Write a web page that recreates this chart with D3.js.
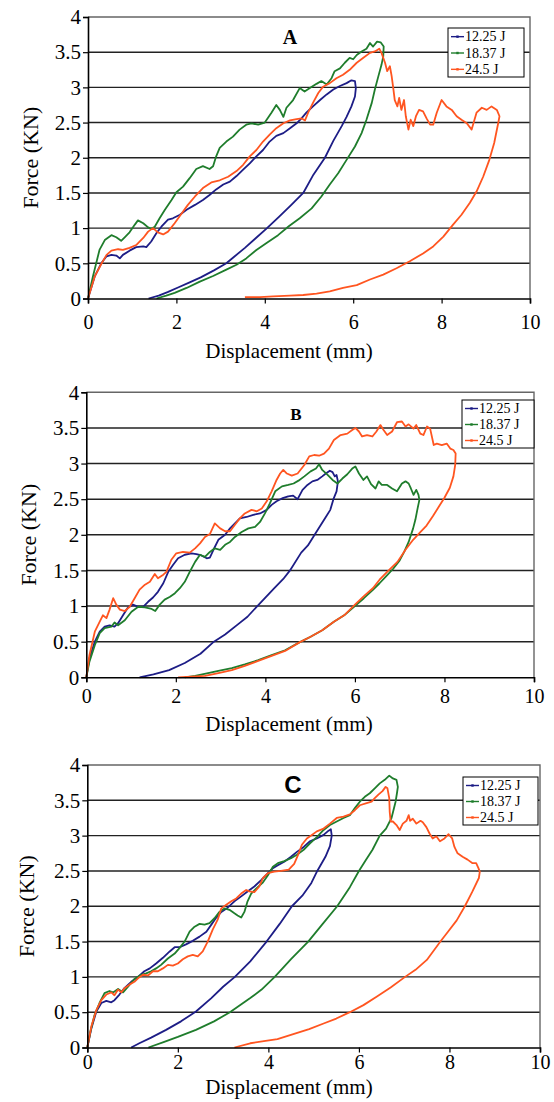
<!DOCTYPE html>
<html>
<head>
<meta charset="utf-8">
<script src="https://cdnjs.cloudflare.com/ajax/libs/d3/7.8.5/d3.min.js"></script>
<style>
	body { margin: 0; background: #fff; }
	svg { display: block; }
</style>
</head>
<body>
<svg id="main-svg"></svg>
<script>
'use strict'

// ---- data (x = displacement mm, y = force kN) ----
var xTicks = [0, 2, 4, 6, 8, 10];
var yTicks = [0, 0.5, 1, 1.5, 2, 2.5, 3, 3.5, 4];
var seriesNames = ["12.25 J", "18.37 J", "24.5 J"];
var panelLetters = ["A", "B", "C"];

// panel A
var aBlue = [[0,0],[0.15,0.31],[0.3,0.5],[0.42,0.6],[0.53,0.62],[0.64,0.61],[0.72,0.57],[0.79,0.62],[0.94,0.68],[1.09,0.73],[1.25,0.74],[1.32,0.73],[1.43,0.81],[1.55,0.93],[1.66,1.02],[1.81,1.12],[1.92,1.14],[2.08,1.19],[2.23,1.26],[2.42,1.33],[2.6,1.4],[2.75,1.47],[2.9,1.55],[3.06,1.62],[3.21,1.66],[3.36,1.74],[3.51,1.83],[3.66,1.92],[3.81,2.02],[3.96,2.11],[4.11,2.23],[4.26,2.31],[4.42,2.35],[4.57,2.42],[4.72,2.49],[4.83,2.56],[4.94,2.64],[5.09,2.73],[5.25,2.82],[5.4,2.9],[5.55,2.97],[5.7,3.02],[5.85,3.06],[5.96,3.1],[6.04,3.09],[6.06,2.99],[6.04,2.87],[5.96,2.73],[5.85,2.58],[5.74,2.45],[5.55,2.24],[5.36,2.0],[5.1,1.76],[4.87,1.5],[4.6,1.33],[4.32,1.16],[4.05,1.0],[3.8,0.86],[3.55,0.72],[3.3,0.59],[3.13,0.5],[2.85,0.4],[2.55,0.3],[2.3,0.23],[2.05,0.16],[1.8,0.09],[1.6,0.04],[1.37,0]];
var aGreen = [[0,0],[0.11,0.31],[0.26,0.69],[0.38,0.83],[0.53,0.9],[0.64,0.87],[0.75,0.82],[0.83,0.87],[0.94,0.94],[1.06,1.05],[1.13,1.11],[1.25,1.07],[1.36,1.01],[1.43,0.99],[1.51,1.02],[1.62,1.14],[1.74,1.26],[1.89,1.4],[2.0,1.51],[2.15,1.59],[2.3,1.71],[2.45,1.84],[2.6,1.88],[2.75,1.84],[2.83,1.88],[2.9,2.02],[2.98,2.14],[3.13,2.23],[3.28,2.3],[3.43,2.4],[3.58,2.47],[3.7,2.49],[3.85,2.47],[4.0,2.5],[4.15,2.64],[4.26,2.75],[4.34,2.68],[4.42,2.58],[4.49,2.71],[4.64,2.82],[4.79,2.99],[4.9,2.94],[5.02,2.99],[5.17,3.05],[5.28,3.09],[5.4,3.04],[5.51,3.13],[5.58,3.23],[5.7,3.27],[5.81,3.35],[5.92,3.42],[6.0,3.4],[6.08,3.46],[6.19,3.51],[6.3,3.55],[6.38,3.63],[6.45,3.58],[6.54,3.65],[6.62,3.64],[6.69,3.58],[6.68,3.44],[6.64,3.32],[6.57,3.16],[6.49,2.97],[6.42,2.78],[6.3,2.54],[6.19,2.35],[6.04,2.16],[5.85,1.97],[5.66,1.78],[5.47,1.62],[5.28,1.45],[5.06,1.28],[4.79,1.14],[4.55,1.03],[4.3,0.9],[4.04,0.79],[3.81,0.69],[3.58,0.57],[3.36,0.48],[3.13,0.41],[2.83,0.32],[2.53,0.24],[2.23,0.15],[1.96,0.08],[1.77,0.04],[1.55,0]];
var aOrange = [[0,0],[0.15,0.31],[0.3,0.49],[0.42,0.62],[0.53,0.68],[0.68,0.7],[0.79,0.69],[0.94,0.72],[1.09,0.76],[1.25,0.86],[1.36,0.95],[1.47,1.0],[1.58,0.94],[1.7,0.91],[1.81,0.95],[1.96,1.07],[2.11,1.2],[2.26,1.33],[2.42,1.45],[2.6,1.57],[2.79,1.65],[2.98,1.68],[3.17,1.73],[3.36,1.81],[3.51,1.9],[3.66,2.02],[3.81,2.11],[3.96,2.23],[4.11,2.33],[4.26,2.42],[4.42,2.49],[4.57,2.53],[4.72,2.55],[4.83,2.56],[4.91,2.53],[4.98,2.64],[5.09,2.78],[5.21,2.92],[5.32,3.01],[5.47,3.06],[5.62,3.13],[5.77,3.18],[5.92,3.25],[6.08,3.35],[6.23,3.42],[6.38,3.49],[6.49,3.51],[6.59,3.55],[6.64,3.49],[6.72,3.35],[6.77,3.23],[6.83,3.3],[6.87,3.16],[6.91,2.97],[6.94,2.82],[7.0,2.73],[7.04,2.85],[7.09,2.68],[7.15,2.82],[7.19,2.59],[7.25,2.4],[7.3,2.54],[7.36,2.45],[7.42,2.59],[7.49,2.68],[7.58,2.66],[7.66,2.56],[7.74,2.47],[7.81,2.47],[7.89,2.64],[8.0,2.82],[8.11,2.73],[8.23,2.68],[8.34,2.59],[8.45,2.54],[8.57,2.49],[8.68,2.4],[8.79,2.64],[8.91,2.71],[9.02,2.68],[9.13,2.73],[9.25,2.68],[9.31,2.59],[9.28,2.49],[9.19,2.21],[9.08,1.97],[8.94,1.73],[8.79,1.52],[8.64,1.36],[8.45,1.19],[8.26,1.05],[8.04,0.88],[7.81,0.74],[7.58,0.64],[7.28,0.53],[6.98,0.43],[6.68,0.34],[6.38,0.27],[6.08,0.19],[5.77,0.15],[5.47,0.1],[5.17,0.07],[4.87,0.05],[4.57,0.04],[4.19,0.03],[3.89,0.02],[3.55,0.02]];

// panel B
var bBlue = [[0,0],[0.07,0.27],[0.19,0.5],[0.3,0.64],[0.41,0.71],[0.52,0.73],[0.63,0.71],[0.71,0.76],[0.82,0.87],[0.93,0.98],[1.04,1.02],[1.16,0.99],[1.27,0.99],[1.38,1.06],[1.49,1.12],[1.6,1.2],[1.72,1.32],[1.83,1.48],[1.94,1.58],[2.05,1.67],[2.2,1.72],[2.35,1.74],[2.46,1.73],[2.57,1.71],[2.69,1.67],[2.76,1.68],[2.84,1.79],[2.95,1.93],[3.1,2.0],[3.21,2.09],[3.32,2.16],[3.43,2.23],[3.58,2.25],[3.73,2.28],[3.88,2.3],[4.03,2.35],[4.14,2.42],[4.25,2.47],[4.37,2.51],[4.51,2.54],[4.62,2.55],[4.72,2.5],[4.83,2.63],[4.94,2.7],[5.05,2.75],[5.16,2.77],[5.27,2.82],[5.35,2.86],[5.44,2.9],[5.5,2.88],[5.55,2.82],[5.59,2.84],[5.62,2.75],[5.59,2.61],[5.52,2.5],[5.45,2.35],[5.35,2.25],[5.1,2.0],[4.95,1.85],[4.8,1.75],[4.55,1.5],[4.4,1.38],[4.2,1.25],[3.82,1.0],[3.6,0.85],[3.4,0.75],[3.1,0.6],[2.85,0.5],[2.55,0.33],[2.2,0.2],[1.85,0.1],[1.5,0.04],[1.19,0]];
var bGreen = [[0,0],[0.07,0.22],[0.19,0.45],[0.3,0.62],[0.41,0.69],[0.56,0.71],[0.63,0.77],[0.71,0.73],[0.86,0.8],[1.01,0.92],[1.16,0.99],[1.31,0.98],[1.46,0.96],[1.54,0.93],[1.64,1.02],[1.75,1.09],[1.87,1.13],[1.98,1.18],[2.09,1.25],[2.2,1.34],[2.31,1.48],[2.43,1.62],[2.54,1.72],[2.65,1.69],[2.76,1.76],[2.87,1.81],[2.99,1.79],[3.1,1.86],[3.21,1.9],[3.32,1.97],[3.47,2.04],[3.62,2.09],[3.77,2.11],[3.88,2.18],[3.99,2.3],[4.1,2.44],[4.22,2.61],[4.37,2.68],[4.51,2.7],[4.63,2.72],[4.74,2.76],[4.87,2.82],[5.01,2.89],[5.13,2.93],[5.2,2.99],[5.27,2.91],[5.39,2.84],[5.5,2.77],[5.61,2.72],[5.72,2.79],[5.83,2.85],[5.94,2.93],[6.01,2.96],[6.09,2.86],[6.19,2.77],[6.27,2.82],[6.36,2.71],[6.46,2.65],[6.53,2.75],[6.6,2.7],[6.72,2.7],[6.83,2.65],[6.94,2.61],[7.05,2.72],[7.13,2.75],[7.2,2.72],[7.25,2.65],[7.31,2.56],[7.37,2.63],[7.42,2.56],[7.44,2.49],[7.4,2.37],[7.35,2.21],[7.3,2.09],[7.2,1.9],[7.1,1.76],[7.0,1.64],[6.85,1.52],[6.7,1.42],[6.55,1.32],[6.39,1.22],[6.2,1.11],[5.98,0.99],[5.76,0.87],[5.53,0.78],[5.27,0.66],[5.01,0.57],[4.76,0.49],[4.44,0.38],[4.14,0.31],[3.84,0.24],[3.54,0.18],[3.25,0.13],[2.95,0.09],[2.72,0.06],[2.43,0.02],[2.2,0]];
var bOrange = [[0,0],[0.07,0.31],[0.19,0.64],[0.3,0.78],[0.37,0.87],[0.45,0.83],[0.52,0.95],[0.6,1.11],[0.67,1.02],[0.75,0.95],[0.86,0.93],[0.97,0.99],[1.08,1.11],[1.19,1.23],[1.31,1.3],[1.42,1.34],[1.53,1.45],[1.6,1.39],[1.72,1.44],[1.79,1.48],[1.9,1.65],[2.01,1.74],[2.16,1.76],[2.31,1.75],[2.43,1.81],[2.54,1.88],[2.65,1.97],[2.76,2.01],[2.87,2.16],[2.99,2.09],[3.1,2.05],[3.21,2.05],[3.32,2.14],[3.43,2.23],[3.54,2.3],[3.69,2.35],[3.81,2.33],[3.92,2.37],[4.03,2.47],[4.14,2.61],[4.25,2.77],[4.33,2.86],[4.4,2.91],[4.48,2.86],[4.59,2.83],[4.72,2.86],[4.87,2.98],[4.98,3.1],[5.09,3.12],[5.2,3.11],[5.31,3.14],[5.42,3.21],[5.53,3.33],[5.68,3.4],[5.83,3.42],[5.94,3.47],[6.01,3.5],[6.09,3.45],[6.16,3.38],[6.27,3.4],[6.39,3.38],[6.48,3.45],[6.57,3.54],[6.64,3.47],[6.72,3.4],[6.83,3.45],[6.94,3.58],[7.05,3.59],[7.13,3.52],[7.2,3.55],[7.31,3.49],[7.37,3.54],[7.46,3.42],[7.53,3.4],[7.61,3.52],[7.68,3.49],[7.76,3.26],[7.83,3.28],[7.94,3.26],[8.05,3.28],[8.13,3.21],[8.2,3.19],[8.25,3.14],[8.24,2.98],[8.2,2.82],[8.12,2.66],[8.0,2.52],[7.88,2.4],[7.74,2.26],[7.6,2.13],[7.45,2.03],[7.3,1.93],[7.13,1.79],[6.95,1.62],[6.72,1.48],[6.55,1.37],[6.4,1.25],[6.2,1.14],[6.0,1.02],[5.76,0.87],[5.53,0.78],[5.27,0.66],[5.01,0.57],[4.76,0.49],[4.44,0.37],[4.14,0.3],[3.84,0.23],[3.54,0.16],[3.25,0.1],[2.95,0.06],[2.65,0.02],[2.35,0.01],[2.05,0]];

// panel C
var cBlue = [[0,0],[0.09,0.27],[0.2,0.51],[0.31,0.63],[0.42,0.66],[0.53,0.64],[0.6,0.67],[0.71,0.75],[0.82,0.84],[0.97,0.93],[1.12,1.0],[1.26,1.08],[1.38,1.12],[1.52,1.19],[1.67,1.27],[1.82,1.36],[1.93,1.42],[2.04,1.42],[2.18,1.46],[2.33,1.51],[2.48,1.57],[2.63,1.64],[2.74,1.74],[2.85,1.84],[2.96,1.92],[3.1,1.98],[3.25,2.07],[3.4,2.14],[3.54,2.21],[3.69,2.28],[3.84,2.37],[3.99,2.47],[4.1,2.54],[4.21,2.58],[4.35,2.63],[4.5,2.7],[4.63,2.77],[4.78,2.84],[4.92,2.92],[5.07,2.96],[5.22,3.01],[5.33,3.07],[5.38,3.09],[5.4,3.0],[5.36,2.85],[5.26,2.7],[5.08,2.5],[4.95,2.33],[4.75,2.15],[4.52,2.0],[4.25,1.75],[3.96,1.5],[3.6,1.22],[3.26,1.0],[3.0,0.86],[2.74,0.7],[2.4,0.51],[2.07,0.37],[1.74,0.25],[1.41,0.14],[1.15,0.06],[0.97,0]];
var cGreen = [[0,0],[0.07,0.23],[0.16,0.46],[0.27,0.63],[0.38,0.77],[0.49,0.8],[0.57,0.78],[0.68,0.83],[0.79,0.78],[0.9,0.86],[1.04,0.97],[1.19,1.03],[1.3,1.05],[1.41,1.08],[1.52,1.12],[1.63,1.17],[1.78,1.26],[1.93,1.33],[2.04,1.41],[2.15,1.5],[2.26,1.64],[2.37,1.71],[2.48,1.75],[2.59,1.74],[2.7,1.76],[2.81,1.83],[2.92,1.92],[3.03,1.97],[3.14,1.95],[3.25,1.9],[3.32,1.87],[3.4,1.84],[3.47,1.92],[3.54,2.07],[3.62,2.18],[3.73,2.25],[3.87,2.33],[3.99,2.44],[4.1,2.56],[4.21,2.61],[4.35,2.64],[4.5,2.68],[4.63,2.73],[4.78,2.8],[4.92,2.89],[5.07,2.98],[5.22,3.08],[5.36,3.15],[5.51,3.2],[5.66,3.25],[5.8,3.29],[5.91,3.39],[6.02,3.48],[6.13,3.55],[6.24,3.6],[6.35,3.67],[6.46,3.74],[6.57,3.79],[6.67,3.85],[6.75,3.81],[6.83,3.79],[6.86,3.69],[6.84,3.6],[6.81,3.48],[6.72,3.25],[6.6,3.1],[6.46,3.0],[6.3,2.8],[6.15,2.65],[6.0,2.5],[5.8,2.27],[5.52,2.0],[5.2,1.75],[4.88,1.5],[4.5,1.25],[4.14,1.0],[3.85,0.82],[3.6,0.7],[3.15,0.5],[2.8,0.37],[2.4,0.25],[2.0,0.15],[1.7,0.08],[1.35,0]];
var cOrange = [[0,0],[0.09,0.3],[0.2,0.53],[0.31,0.67],[0.42,0.75],[0.53,0.78],[0.6,0.74],[0.68,0.82],[0.75,0.78],[0.82,0.84],[0.93,0.89],[1.04,0.93],[1.12,0.98],[1.23,1.03],[1.34,1.02],[1.45,1.08],[1.56,1.08],[1.67,1.12],[1.78,1.17],[1.89,1.16],[2.0,1.19],[2.11,1.25],[2.22,1.29],[2.33,1.31],[2.44,1.29],[2.55,1.36],[2.66,1.5],[2.77,1.67],[2.88,1.81],[2.96,1.97],[3.07,2.02],[3.18,2.07],[3.29,2.11],[3.4,2.18],[3.51,2.23],[3.58,2.21],[3.69,2.2],[3.8,2.28],[3.88,2.4],[3.99,2.47],[4.13,2.49],[4.28,2.5],[4.45,2.52],[4.57,2.6],[4.67,2.75],[4.74,2.87],[4.85,2.96],[4.96,3.01],[5.07,3.06],[5.22,3.1],[5.36,3.17],[5.51,3.25],[5.66,3.27],[5.8,3.3],[5.91,3.36],[6.02,3.43],[6.17,3.46],[6.28,3.48],[6.35,3.53],[6.43,3.58],[6.52,3.63],[6.59,3.69],[6.63,3.67],[6.67,3.53],[6.68,3.34],[6.7,3.2],[6.75,3.2],[6.83,3.15],[6.9,3.08],[6.97,3.17],[7.05,3.21],[7.1,3.29],[7.13,3.21],[7.19,3.24],[7.27,3.17],[7.36,3.21],[7.41,3.19],[7.49,3.12],[7.56,3.03],[7.63,2.96],[7.71,2.99],[7.79,2.92],[7.89,2.96],[7.98,3.02],[8.06,2.96],[8.11,2.84],[8.18,2.75],[8.29,2.7],[8.4,2.66],[8.51,2.61],[8.59,2.61],[8.64,2.54],[8.67,2.49],[8.65,2.4],[8.5,2.2],[8.34,2.0],[8.16,1.8],[7.98,1.65],[7.8,1.5],[7.5,1.24],[7.25,1.1],[7.02,1.0],[6.7,0.85],[6.39,0.72],[6.1,0.6],[5.8,0.5],[5.5,0.41],[5.22,0.34],[4.9,0.26],[4.55,0.19],[4.2,0.12],[3.9,0.09],[3.6,0.06],[3.25,0]];

var lineColors = ["#1d1d86", "#1f7d2c", "#ff5520"];

var Main = function() {

	var HEIGHT = 1102,
		WIDTH = 554;

	var serif = "'Liberation Serif', 'Times New Roman', serif";

	// per panel layout, measured off the page
	var panels = [
		{ letter: panelLetters[0], series: [aBlue, aGreen, aOrange],
		  left: 88, right: 530, top: 17, bottom: 298.5, tickPad: 11, titleY: 358, yTitleX: 30,
		  legend: { x: 448, y: 28, w: 76, h: 49 },
		  mark: { x: 290, y: 44, size: 20, font: serif } },
		{ letter: panelLetters[1], series: [bBlue, bGreen, bOrange],
		  left: 86.3, right: 534, top: 392.3, bottom: 677.3, tickPad: 7, titleY: 731, yTitleX: 28,
		  legend: { x: 462, y: 400, w: 72, h: 48 },
		  mark: { x: 296, y: 420, size: 17, font: serif } },
		{ letter: panelLetters[2], series: [cBlue, cGreen, cOrange],
		  left: 87.3, right: 540, top: 765, bottom: 1047.5, tickPad: 2, titleY: 1094, yTitleX: 26,
		  legend: { x: 463, y: 777, w: 75, h: 48 },
		  mark: { x: 293, y: 793, size: 24, font: "'Liberation Sans', Arial, sans-serif" } }
	];

	this.initialize = function() {
		var mainSvg = d3.select("#main-svg")
			.attr("width", WIDTH)
			.attr("height", HEIGHT)

		mainSvg.append("rect")
			.attr("width", WIDTH)
			.attr("height", HEIGHT)
			.style("fill", "#fff")

		panels.forEach(function(p) {
			drawPanel(mainSvg, p)
		})
	}

	function drawPanel(svg, p) {
		var x = d3.scaleLinear().domain([0, 10]).range([p.left, p.right]);
		var y = d3.scaleLinear().domain([0, 4]).range([p.bottom, p.top]);

		var g = svg.append("g");

		// horizontal gridlines
		g.selectAll(".grid")
			.data(yTicks.filter(function(d) { return d > 0 && d < 4; }))
			.enter().append("line")
			.attr("x1", p.left).attr("x2", p.right)
			.attr("y1", function(d) { return y(d); })
			.attr("y2", function(d) { return y(d); })
			.style("stroke", "#222")
			.style("stroke-width", 1.4)

		// frame top + right
		g.append("path")
			.attr("d", "M" + p.left + "," + y(4) + "H" + p.right + "V" + p.bottom)
			.style("fill", "none")
			.style("stroke", "#666")
			.style("stroke-width", 1.4)

		// curves
		var line = d3.line()
			.x(function(d) { return x(d[0]); })
			.y(function(d) { return y(d[1]); })

		p.series.forEach(function(s, i) {
			g.append("path")
				.datum(s)
				.attr("d", line)
				.style("fill", "none")
				.style("stroke", lineColors[i])
				.style("stroke-width", 1.8)
				.style("stroke-linejoin", "round")
		})

		// axes
		var yAxis = d3.axisLeft(y).tickValues(yTicks).tickSize(5).tickPadding(2).tickFormat(d3.format(""));
		var xAxis = d3.axisBottom(x).tickValues(xTicks).tickSize(5).tickPadding(p.tickPad);

		var ya = g.append("g").attr("transform", "translate(" + p.left + ",0)").call(yAxis);
		var xa = g.append("g").attr("transform", "translate(0," + p.bottom + ")").call(xAxis);

		[ya, xa].forEach(function(a, i) {
			a.select(".domain").style("stroke", "#000").style("stroke-width", 1.6)
			a.selectAll(".tick line").style("stroke", "#000").style("stroke-width", 1.2)
			a.selectAll("text")
				.style("font-family", serif)
				.style("font-size", i === 0 ? "21px" : "20px")
				.style("fill", "#000")
		})

		// axis titles (centred under the whole panel, not the plot box)
		g.append("text")
			.attr("x", 289)
			.attr("y", p.titleY)
			.attr("text-anchor", "middle")
			.style("font-family", serif)
			.style("font-size", "21px")
			.text("Displacement (mm)")

		g.append("text")
			.attr("transform", "translate(" + p.yTitleX + "," + ((p.top + p.bottom) / 2) + ") rotate(-90)")
			.attr("text-anchor", "middle")
			.attr("dy", "0.35em")
			.style("font-family", serif)
			.style("font-size", "22px")
			.text("Force (KN)")

		// panel letter
		g.append("text")
			.attr("x", p.mark.x)
			.attr("y", p.mark.y)
			.attr("text-anchor", "middle")
			.style("font-family", p.mark.font)
			.style("font-weight", "bold")
			.style("font-size", p.mark.size + "px")
			.text(p.letter)

		// legend
		var lg = g.append("g").attr("transform", "translate(" + p.legend.x + "," + p.legend.y + ")");
		lg.append("rect")
			.attr("width", p.legend.w)
			.attr("height", p.legend.h)
			.style("fill", "#fff")
			.style("stroke", "#000")
			.style("stroke-width", 1)

		var rowH = p.legend.h / 3;
		seriesNames.forEach(function(name, i) {
			var cy = rowH * i + rowH / 2 + 0.5;
			lg.append("line")
				.attr("x1", 3).attr("x2", 16)
				.attr("y1", cy).attr("y2", cy)
				.style("stroke", lineColors[i])
				.style("stroke-width", 1.4)
			lg.append("rect")
				.attr("x", 8.3).attr("y", cy - 1.2)
				.attr("width", 2.4).attr("height", 2.4)
				.style("fill", lineColors[i])
			lg.append("text")
				.attr("x", 17)
				.attr("y", cy)
				.attr("dy", "0.34em")
				.style("font-family", serif)
				.style("font-size", "14px")
				.text(name)
		})
	}
}

var main = new Main();
main.initialize();
</script>
</body>
</html>
